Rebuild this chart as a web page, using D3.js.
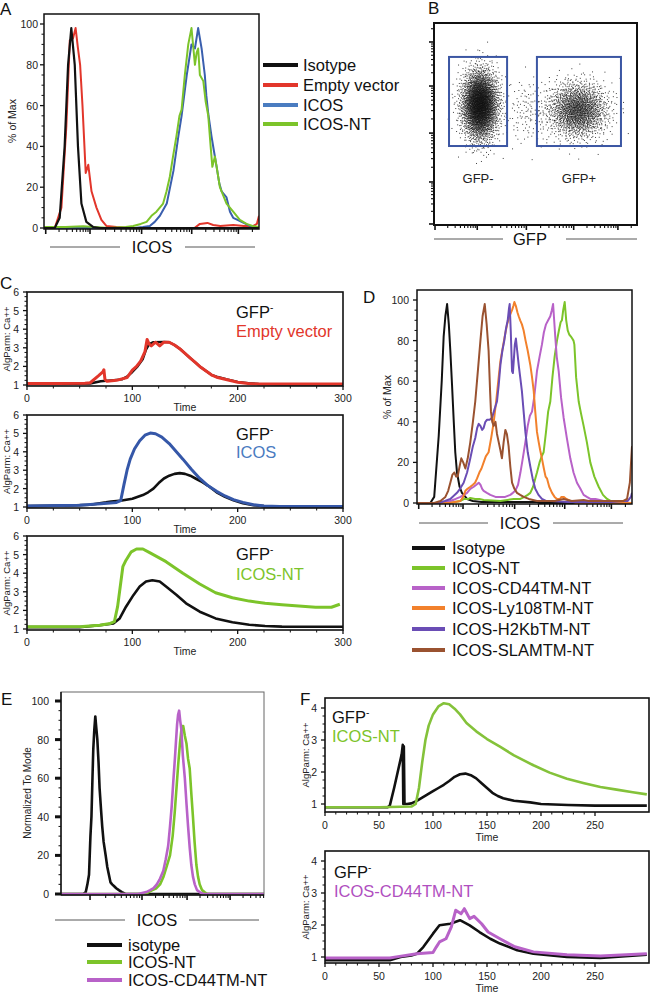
<!DOCTYPE html>
<html><head><meta charset="utf-8">
<script src="https://cdn.jsdelivr.net/npm/d3@7"></script>
<style>body{margin:0;background:#fff}svg{display:block;font-family:"Liberation Sans",Arial,Helvetica,sans-serif}</style>
</head><body><svg id="fig" width="650" height="995"></svg>
<script>
// ---------------- DATA ----------------
// Panel A histograms: [channel (0-1000), % of max]
const aLegend = ["Isotype","Empty vector","ICOS","ICOS-NT"];
const aIsotype = [[0,0],[50,0],[73,5],[96,40],[112,80],[127,98],[143,80],[158,40],[174,12],[197,3],[228,0.5],[260,0],[1000,0]];
const aEmpty = [[0,0],[50,0],[81,10],[104,50],[120,92],[135,93],[147,98],[158,88],[168,80],[179,60],[194,27],[200,29],[206,31],[221,18],[244,10],[267,4],[290,1],[337,0.5],[400,0],[700,0],[725,2],[760,2.5],[787,1.5],[820,1],[880,1.5],[930,1],[974,1],[990,2],[1000,6]];
const aICOS = [[0,0],[420,0],[460,0.5],[492,1],[515,3],[539,6],[571,12],[602,28],[625,45],[640,55],[664,75],[686,90],[702,88],[717,98],[733,88],[748,75],[755,65],[764,56],[779,45],[790,38],[803,30],[815,22],[826,18],[849,15],[865,8],[880,5],[900,4],[919,3],[958,1],[1000,0]];
const aICOSNT = [[0,0.5],[100,0.5],[182,0.8],[300,0],[380,0.5],[415,1],[450,2],[477,3],[500,6],[523,8],[554,12],[570,18],[585,25],[600,35],[616,45],[630,55],[640,58],[655,75],[671,90],[686,98],[695,88],[702,80],[710,86],[717,88],[725,75],[741,72],[752,62],[764,55],[775,40],[783,30],[795,35],[806,28],[818,20],[849,12],[880,8],[911,4],[942,2],[970,1],[1000,0.5]];
const logMajors = [8, 214, 454, 687, 904];

// Panel B: cell populations [centerX, centerY, sdX, sdY, count] (channel units 0-1000)
const bClusters = [[227,594,44,84,3400],[709,569,72,68,1800],[470,560,60,80,140]];
const bGates = [{label:"GFP-", x0:74, x1:360, y0:391, y1:832},{label:"GFP+", x0:507, x1:921, y0:391, y1:832}];
const bMajors = [5, 213, 455, 688, 906];

// Panel C: Ca++ flux time courses [time, AlgParm Ca++]
const c1Black = [[0,1.05],[30,1.05],[60,1.08],[70,1.2],[80,1.25],[90,1.3],[95,1.45],[100,1.7],[105,2.0],[110,2.4],[113,2.9],[116,3.2],[120,3.3],[130,3.32],[135,3.3],[140,3.15],[145,2.95],[150,2.7],[155,2.45],[160,2.2],[165,1.95],[170,1.75],[175,1.55],[180,1.45],[190,1.3],[200,1.17],[210,1.1],[220,1.05],[240,1.03],[300,1.03]];
const c1Red = [[0,1.08],[30,1.08],[55,1.1],[60,1.12],[68,1.5],[72,1.7],[73,1.82],[74,1.3],[76,1.2],[85,1.25],[95,1.4],[100,1.8],[104,2.0],[108,2.3],[112,2.8],[114,3.45],[116,3.2],[118,3.1],[122,3.3],[126,3.1],[130,3.3],[135,3.3],[140,3.15],[145,2.95],[150,2.7],[155,2.45],[160,2.2],[165,1.95],[170,1.75],[175,1.55],[180,1.42],[190,1.28],[200,1.15],[210,1.08],[220,1.05],[300,1.05]];
const c2Black = [[0,1.05],[40,1.08],[60,1.12],[75,1.25],[80,1.3],[90,1.35],[100,1.45],[110,1.65],[115,1.8],[120,2.0],[125,2.3],[130,2.55],[135,2.7],[140,2.8],[145,2.84],[150,2.8],[155,2.7],[160,2.55],[165,2.4],[172,2.15],[180,1.8],[188,1.55],[196,1.36],[205,1.2],[215,1.1],[225,1.05],[240,1.02],[300,1.02]];
const c2Blue = [[0,1.05],[50,1.1],[70,1.18],[85,1.25],[89,1.35],[92,2.2],[95,3.0],[98,3.6],[102,4.15],[107,4.6],[112,4.9],[117,5.02],[122,4.98],[128,4.8],[135,4.45],[148,3.6],[156,3.05],[164,2.55],[172,2.15],[180,1.85],[188,1.6],[196,1.4],[205,1.25],[215,1.12],[225,1.06],[240,1.03],[300,1.03]];
const c3Black = [[0,1.1],[50,1.1],[69,1.2],[82,1.3],[88,1.57],[94,2.2],[101,2.82],[107,3.28],[113,3.55],[119,3.62],[126,3.55],[132,3.28],[142,2.83],[151,2.38],[164,1.93],[179,1.57],[195,1.36],[211,1.23],[226,1.16],[242,1.13],[300,1.12]];
const c3Green = [[0,1.12],[53,1.13],[69,1.2],[79,1.3],[83,1.4],[86,2.2],[91,4.35],[94,4.7],[99,5.15],[104,5.3],[110,5.3],[116,5.12],[132,4.62],[148,4.0],[164,3.42],[179,2.95],[195,2.68],[211,2.5],[226,2.38],[242,2.3],[258,2.24],[274,2.17],[289,2.17],[297,2.33]];

// Panel D histograms
const dLegend = ["Isotype","ICOS-NT","ICOS-CD44TM-NT","ICOS-Ly108TM-NT","ICOS-H2KbTM-NT","ICOS-SLAMTM-NT"];
const dIsotype = [[0,0],[62,0],[80,3],[101,33],[115,60],[124,82],[132,92],[140,98],[148,88],[155,75],[163,58],[171,40],[178,25],[186,15],[198,8],[209,5],[233,2],[260,1],[300,0.5],[558,0.5],[570,0],[1000,0]];
const dICOSNT = [[0,0],[150,0],[202,1],[220,2],[240,2],[248,2.5],[270,2],[290,2],[310,1.5],[350,1.2],[388,1],[420,1.5],[450,2],[481,2],[500,3],[515,4],[527,5],[540,8],[550,12],[558,15],[570,20],[580,23],[589,25],[600,35],[610,45],[620,50],[630,62],[640,72],[651,80],[660,85],[668,89],[674,90],[680,95],[687,99],[694,90],[701,85],[708,83],[716,82],[722,81],[728,80],[732,78],[740,62],[752,50],[763,44],[775,38],[790,30],[806,20],[825,13],[845,8],[865,4],[884,2],[900,1],[915,0],[1000,0]];
const dCD44 = [[0,0],[120,0],[155,1],[180,2],[202,3],[218,4],[233,5],[248,7],[264,8],[276,9],[287,10],[295,9],[303,7],[310,6],[325,5],[341,4],[365,3],[388,3],[410,3],[434,4],[446,5],[457,6],[470,9],[481,15],[492,22],[504,30],[515,38],[525,43],[535,45],[545,52],[558,65],[570,72],[581,78],[590,84],[600,88],[610,90],[620,92],[627,95],[633,98],[638,90],[643,82],[650,72],[659,65],[670,52],[682,42],[697,32],[713,22],[728,15],[744,10],[760,7],[775,4],[790,3],[806,2],[830,2],[850,1.5],[868,1],[900,0.5],[1000,0]];
const dLy108 = [[0,0],[150,0],[202,1],[215,3],[225,6],[235,7],[248,8],[260,9],[270,10],[279,12],[290,15],[300,17],[310,20],[320,23],[333,25],[345,32],[357,40],[368,50],[378,60],[388,70],[398,76],[408,82],[419,88],[430,92],[442,95],[448,97],[453,99],[460,97],[467,94],[473,92],[480,90],[488,88],[496,85],[505,80],[515,75],[527,68],[535,62],[543,55],[550,45],[558,35],[566,30],[573,26],[581,22],[590,17],[598,13],[605,12],[615,8],[628,5],[640,3],[651,2],[665,2],[672,3],[682,3],[695,2],[713,1],[740,0],[1000,0]];
const dH2Kb = [[0,0],[100,0],[130,1],[155,2],[186,5],[200,7],[217,10],[233,15],[248,22],[260,28],[271,32],[280,37],[287,39],[295,38],[303,36],[310,37],[318,40],[326,41],[338,41],[349,42],[360,46],[372,50],[380,58],[388,68],[397,75],[406,80],[414,86],[422,90],[428,96],[431,98],[436,85],[442,65],[446,64],[450,70],[455,78],[460,81],[466,75],[473,68],[480,62],[488,55],[496,45],[504,35],[515,25],[527,18],[538,12],[550,7],[565,4],[581,2],[600,1],[620,1],[700,0.5],[800,0.5],[900,0.5],[961,1],[980,1],[995,3],[1000,5]];
const dSLAM = [[0,0],[80,0],[109,1],[132,3],[145,6],[155,10],[165,14],[174,15],[182,13],[189,13],[198,18],[206,22],[215,20],[225,17],[236,22],[248,30],[260,40],[271,50],[283,65],[295,80],[305,92],[315,98],[324,88],[333,75],[340,55],[344,45],[350,40],[357,38],[365,40],[372,34],[380,30],[388,26],[395,22],[403,30],[411,36],[418,34],[426,28],[434,18],[442,10],[453,7],[465,5],[480,4],[496,3],[520,2],[558,1],[640,1],[682,2],[700,1.5],[720,1],[775,1.5],[800,1],[960,1],[977,2],[990,10],[1000,28]];

// Panel E histograms (Normalized To Mode)
const eLegend = ["isotype","ICOS-NT","ICOS-CD44TM-NT"];
const eIsotype = [[0,0],[110,0],[122,1],[130,5],[138,10],[145,30],[150,40],[155,60],[159,75],[164,85],[169,92],[174,86],[179,80],[185,68],[190,55],[197,44],[203,35],[210,27],[220,20],[228,14],[236,10],[244,6],[252,5],[262,4],[272,3],[285,2],[300,1],[317,0],[1000,0]];
const eICOSNT = [[0,0],[400,0],[423,0.5],[450,2],[470,3],[488,5],[505,9],[520,14],[537,20],[550,30],[560,42],[569,55],[578,68],[586,78],[593,85],[598,87],[602,87],[610,82],[618,78],[626,70],[634,65],[642,52],[650,40],[658,27],[667,15],[675,9],[683,5],[695,2],[707,1],[720,0],[1000,0]];
const eCD44 = [[0,0],[380,0],[400,0.5],[420,1],[439,2],[456,3],[472,5],[488,8],[504,12],[516,18],[528,25],[537,35],[545,45],[553,58],[561,70],[567,80],[572,88],[577,93],[582,95],[587,90],[593,85],[600,72],[610,60],[618,47],[626,35],[634,24],[642,15],[650,9],[659,5],[670,2],[683,1],[700,0],[1000,0]];
const eMajors = [143, 399, 621, 833];

// Panel F time courses
const fTopBlack = [[0,0.9],[30,0.9],[58,0.9],[60,0.95],[64,1.5],[68,2.1],[71,2.55],[72,2.85],[72.5,1.0],[73,2.8],[73.6,1.0],[76,1.0],[80,1.02],[85,1.1],[90,1.2],[95,1.3],[100,1.4],[105,1.5],[110,1.6],[115,1.72],[120,1.85],[125,1.93],[130,1.95],[135,1.9],[140,1.8],[145,1.65],[150,1.5],[155,1.35],[160,1.25],[165,1.18],[175,1.1],[190,1.05],[200,1.0],[225,0.97],[250,0.95],[275,0.95],[298,0.95]];
const fTopGreen = [[0,0.9],[50,0.9],[80,0.92],[84,1.0],[87,1.5],[90,2.3],[93,3.0],[96,3.45],[100,3.8],[105,4.05],[110,4.15],[115,4.12],[120,3.98],[125,3.8],[131,3.53],[140,3.27],[150,3.03],[162,2.79],[175,2.52],[193,2.21],[208,1.98],[224,1.79],[240,1.65],[255,1.53],[270,1.45],[285,1.37],[298,1.3]];
const fBotBlack = [[0,0.9],[60,0.9],[70,1.0],[80,1.05],[85,1.1],[91,1.31],[100,1.73],[106,1.99],[116,2.04],[125,2.15],[134,1.99],[143,1.78],[153,1.57],[162,1.42],[178,1.21],[193,1.1],[224,1.0],[255,0.97],[298,1.07]];
const fBotMagenta = [[0,0.97],[60,0.97],[69,1.02],[85,1.1],[100,1.14],[103,1.31],[106,1.47],[112,1.57],[117,1.94],[121,2.46],[126,2.35],[129,2.51],[134,2.2],[138,2.27],[145,2.04],[151,1.78],[162,1.57],[175,1.33],[193,1.16],[224,1.07],[255,1.03],[298,1.1]];

// ---------------- COLOURS ----------------
const COL = {black:"#111111", red:"#e2362b", blue:"#3a5fae", blueLeg:"#4a7cc0", green:"#7cc42a",
  magenta:"#b862c8", orange:"#f2812c", purple:"#6a4db5", brown:"#9a5230", gate:"#3b56a3"};

// ---------------- HELPERS ----------------
const svg = d3.select("#fig");
let clipN = 0;
function clip(x0,y0,w,h){ const id="clip"+(clipN++); svg.append("clipPath").attr("id",id).append("rect").attr("x",x0).attr("y",y0).attr("width",w).attr("height",h); return "url(#"+id+")"; }
function panelLabel(t,x,y){ svg.append("text").attr("x",x).attr("y",y).attr("font-size",17).attr("fill","#111").text(t); }
function vLabel(t,cx,cy,fs){ svg.append("text").attr("transform",`translate(${cx},${cy}) rotate(-90)`).attr("text-anchor","middle").attr("dominant-baseline","central").attr("font-size",fs).attr("fill","#222").text(t); }
function logTicks(g, x, majors, yb, dir){
  const all=[];
  majors.forEach((m,i)=>{ const w = (i<majors.length-1? majors[i+1]-m : m-majors[i-1]);
    all.push({v:m,major:true});
    for(let k=2;k<10;k++){ const v=m+Math.log10(k)*w; if(v<1000) all.push({v:v,major:false}); } });
  g.selectAll(null).data(all).enter().append("line")
   .attr("x1",d=>x(d.v)).attr("x2",d=>x(d.v)).attr("y1",yb).attr("y2",d=>yb+dir*(d.major?5:3))
   .attr("stroke","#111").attr("stroke-width",d=>d.major?1.6:1.1);
}
function axisTitle(text, y, l1, l2, cx){
  svg.append("line").attr("x1",l1[0]).attr("x2",l1[1]).attr("y1",y).attr("y2",y).attr("stroke","#444").attr("stroke-width",0.9);
  svg.append("line").attr("x1",l2[0]).attr("x2",l2[1]).attr("y1",y).attr("y2",y).attr("stroke","#444").attr("stroke-width",0.9);
  svg.append("text").attr("x",cx).attr("y",y+6).attr("text-anchor","middle").attr("font-size",16.5).attr("fill","#111").text(text);
}
function legend(items, x0, x1, tx, ys, fs){
  items.forEach((it,i)=>{
    svg.append("line").attr("x1",x0).attr("x2",x1).attr("y1",ys[i]).attr("y2",ys[i]).attr("stroke",it.color).attr("stroke-width",4);
    svg.append("text").attr("x",tx).attr("y",ys[i]).attr("dominant-baseline","central").attr("font-size",fs).attr("fill","#111").text(it.name);
  });
}
function histPanel(o){
  const x = d3.scaleLinear().domain([0,1000]).range([o.left,o.right]);
  const y = d3.scaleLinear().domain([0,100]).range([o.y0,o.y100]);
  const g = svg.append("g");
  const cp = clip(o.left,o.top,o.right-o.left,o.y0-o.top+1.5);
  const line = d3.line().x(d=>x(d[0])).y(d=>y(d[1]));
  const cg = g.append("g").attr("clip-path",cp);
  o.curves.forEach(c=>{ cg.append("path").attr("d",line(c.data)).attr("fill","none").attr("stroke",c.color).attr("stroke-width",c.w||2).attr("stroke-linejoin","round"); });
  g.append("rect").attr("x",o.left).attr("y",o.top).attr("width",o.right-o.left).attr("height",o.y0-o.top+1)
    .attr("fill","none").attr("stroke",o.frameColor||"#111").attr("stroke-width",o.frameW||1.5);
  if(o.thickAxes){
    g.append("line").attr("x1",o.left).attr("x2",o.left).attr("y1",o.top).attr("y2",o.y0+1).attr("stroke","#111").attr("stroke-width",1.5);
    g.append("line").attr("x1",o.left).attr("x2",o.right).attr("y1",o.y0+1).attr("y2",o.y0+1).attr("stroke","#111").attr("stroke-width",1.5);
  }
  const minors = d3.range(0,101,5).filter(v=>v%20);
  g.selectAll(null).data(minors).enter().append("line").attr("x1",o.left).attr("x2",o.left-2.5).attr("y1",d=>y(d)).attr("y2",d=>y(d)).attr("stroke","#111").attr("stroke-width",1);
  const majors = d3.range(0,101,20);
  g.selectAll(null).data(majors).enter().append("line").attr("x1",o.left).attr("x2",o.left-(o.bigTick?6:4)).attr("y1",d=>y(d)).attr("y2",d=>y(d)).attr("stroke","#111").attr("stroke-width",o.bigTick?3:1.3);
  g.selectAll(null).data(majors).enter().append("text").attr("x",o.labelX).attr("y",d=>y(d)).attr("dominant-baseline","central").attr("text-anchor","end").attr("font-size",10.5).attr("fill","#222").text(d=>d);
  logTicks(g, x, o.majors, o.y0+1, 1);
}
function gfpLabel(x,y1,y2,txt,col){
  const t = svg.append("text").attr("x",x).attr("y",y1).attr("font-size",16.5).attr("fill","#111");
  t.append("tspan").text("GFP");
  t.append("tspan").attr("font-size",10).attr("dy",-7).text("-");
  svg.append("text").attr("x",x).attr("y",y2).attr("font-size",16.5).attr("fill",col).text(txt);
}
function tcPanel(o){
  const x = d3.scaleLinear().domain([0,300]).range([o.left,o.right]);
  const y = d3.scaleLinear().domain([1,o.yTopVal]).range([o.y1,o.yTop]);
  const g = svg.append("g");
  const cp = clip(o.left,o.frameTop,o.right-o.left,o.frameBot-o.frameTop);
  const line = d3.line().x(d=>x(d[0])).y(d=>y(d[1]));
  const cg = g.append("g").attr("clip-path",cp);
  o.curves.forEach(c=>{ cg.append("path").attr("d",line(c.data)).attr("fill","none").attr("stroke",c.color).attr("stroke-width",c.w||2.6).attr("stroke-linejoin","round"); });
  g.append("rect").attr("x",o.left).attr("y",o.frameTop).attr("width",o.right-o.left).attr("height",o.frameBot-o.frameTop)
    .attr("fill","none").attr("stroke","#111").attr("stroke-width",1.6);
  const xMin = d3.range(0,301,o.xMinor).filter(v=>v%o.xMajor && v<=o.xMax);
  g.selectAll(null).data(xMin).enter().append("line").attr("x1",d=>x(d)).attr("x2",d=>x(d)).attr("y1",o.frameBot).attr("y2",o.frameBot+2.5).attr("stroke","#111").attr("stroke-width",1);
  const xMaj = d3.range(0,o.xMax+1,o.xMajor);
  g.selectAll(null).data(xMaj).enter().append("line").attr("x1",d=>x(d)).attr("x2",d=>x(d)).attr("y1",o.frameBot).attr("y2",o.frameBot+4).attr("stroke","#111").attr("stroke-width",1.3);
  g.selectAll(null).data(xMaj).enter().append("text").attr("x",d=>x(d)).attr("y",o.frameBot+o.lblOff).attr("text-anchor","middle").attr("font-size",10.5).attr("fill","#222").text(d=>d);
  g.append("text").attr("x",x(150)).attr("y",o.frameBot+o.timeOff).attr("text-anchor","middle").attr("font-size",10.5).attr("fill","#222").text("Time");
  const yMaj = d3.range(1,o.yTopVal+0.01,1);
  const yMin = d3.range(1,o.yTopVal+0.01,0.25).filter(v=>v%1);
  g.selectAll(null).data(yMin).enter().append("line").attr("x1",o.left).attr("x2",o.left-2.5).attr("y1",d=>y(d)).attr("y2",d=>y(d)).attr("stroke","#111").attr("stroke-width",1);
  g.selectAll(null).data(yMaj).enter().append("line").attr("x1",o.left).attr("x2",o.left-4).attr("y1",d=>y(d)).attr("y2",d=>y(d)).attr("stroke","#111").attr("stroke-width",1.3);
  g.selectAll(null).data(yMaj).enter().append("text").attr("x",o.left-8).attr("y",d=>y(d)).attr("dominant-baseline","central").attr("text-anchor","end").attr("font-size",10.5).attr("fill","#222").text(d=>d);
  vLabel("AlgParm: Ca++", o.yLabelX, (o.frameTop+o.frameBot)/2, 9.5);
}

// ---------------- PANEL A ----------------
panelLabel("A",0,15);
histPanel({left:44,right:259,top:14,y0:228,y100:24,labelX:38,majors:logMajors,
  curves:[{data:aEmpty,color:COL.red},{data:aICOS,color:COL.blue},{data:aICOSNT,color:COL.green},{data:aIsotype,color:COL.black,w:2.2}]});
vLabel("% of Max",12,121,10.5);
axisTitle("ICOS",247,[50,120],[185,255],152);
legend([{name:aLegend[0],color:COL.black},{name:aLegend[1],color:COL.red},{name:aLegend[2],color:COL.blueLeg},{name:aLegend[3],color:COL.green}],263,298,303,[65,85,105,124],16.5);

// ---------------- PANEL B ----------------
panelLabel("B",428,14);
(function(){
  const L=434,R=637,T=23,B=225;
  const x=d3.scaleLinear().domain([0,1000]).range([L,R]);
  const y=d3.scaleLinear().domain([0,1000]).range([B,T]);
  // deterministic low-discrepancy (Halton) layout of dots inside each population
  function halton(i,b){let f=1,r=0;while(i>0){f/=b;r+=f*(i%b);i=Math.floor(i/b);}return r;}
  const pts=[]; let off=1;
  bClusters.forEach(c=>{
    for(let i=0;i<c[4];i++){
      const u1=halton(i+off,2)||1e-6, u2=halton(i+off,3);
      const r=Math.sqrt(-2*Math.log(u1)), th=2*Math.PI*u2;
      pts.push([c[0]+c[2]*r*Math.cos(th), c[1]+c[3]*r*Math.sin(th)]);
    }
    off+=c[4]+17;
  });
  const g=svg.append("g");
  const cp=clip(L,T,R-L,B-T);
  g.append("g").attr("clip-path",cp).selectAll("rect").data(pts).enter().append("rect")
    .attr("x",d=>x(d[0])-0.5).attr("y",d=>y(d[1])-0.5).attr("width",1).attr("height",1).attr("fill","#111").attr("fill-opacity",0.8);
  g.selectAll(null).data(bGates).enter().append("rect")
    .attr("x",d=>x(d.x0)).attr("y",d=>y(d.y1)).attr("width",d=>x(d.x1)-x(d.x0)).attr("height",d=>y(d.y0)-y(d.y1))
    .attr("fill","none").attr("stroke",COL.gate).attr("stroke-width",2);
  g.selectAll(null).data(bGates).enter().append("text")
    .attr("x",d=>(x(d.x0)+x(d.x1))/2).attr("y",183).attr("text-anchor","middle").attr("font-size",13).attr("fill","#222").text(d=>d.label);
  g.append("rect").attr("x",L).attr("y",T).attr("width",R-L).attr("height",B-T).attr("fill","none").attr("stroke","#111").attr("stroke-width",2);
  logTicks(g,x,bMajors,B,1);
  const all=[];
  bMajors.forEach((m,i)=>{const w=(i<bMajors.length-1?bMajors[i+1]-m:m-bMajors[i-1]); all.push({v:m,major:true});
    for(let k=2;k<10;k++){const v=m+Math.log10(k)*w; if(v<1000) all.push({v:v,major:false});}});
  g.selectAll(null).data(all).enter().append("line").attr("x1",L).attr("x2",d=>L-(d.major?5:3)).attr("y1",d=>y(d.v)).attr("y2",d=>y(d.v)).attr("stroke","#111").attr("stroke-width",d=>d.major?1.6:1.1);
})();
axisTitle("GFP",239,[434,503],[566,637],530);

// ---------------- PANEL C ----------------
panelLabel("C",0,289);
const cCommon={left:27,right:343,yTopVal:6,xMinor:25,xMajor:100,xMax:300,lblOff:16,timeOff:25,yLabelX:6};
tcPanel(Object.assign({},cCommon,{yTop:292,y1:385,frameTop:292,frameBot:386,curves:[{data:c1Black,color:COL.black,w:2.4},{data:c1Red,color:COL.red,w:3}]}));
gfpLabel(236,318,337,"Empty vector",COL.red);
tcPanel(Object.assign({},cCommon,{yTop:415,y1:507,frameTop:415,frameBot:508,curves:[{data:c2Black,color:COL.black,w:2.6},{data:c2Blue,color:"#3557a8",w:3}]}));
gfpLabel(236,440,458,"ICOS","#4a7bbf");
tcPanel(Object.assign({},cCommon,{yTop:536,y1:629,frameTop:536,frameBot:630,curves:[{data:c3Black,color:COL.black,w:2.6},{data:c3Green,color:COL.green,w:3}]}));
gfpLabel(236,560,580,"ICOS-NT",COL.green);

// ---------------- PANEL D ----------------
panelLabel("D",363,303);
histPanel({left:417,right:632,top:290,y0:503,y100:300,labelX:409,majors:logMajors,
  curves:[{data:dIsotype,color:COL.black},{data:dICOSNT,color:COL.green},{data:dCD44,color:COL.magenta},{data:dLy108,color:COL.orange},{data:dH2Kb,color:COL.purple},{data:dSLAM,color:COL.brown}]});
vLabel("% of Max",387,397,10.5);
axisTitle("ICOS",523,[419,488],[553,623],520);
legend(dLegend.map((n,i)=>({name:n,color:[COL.black,COL.green,COL.magenta,COL.orange,COL.purple,COL.brown][i]})),412,445,452,[548,568,588,608,629,650],16.5);

// ---------------- PANEL E ----------------
panelLabel("E",1,705);
histPanel({left:61,right:264,top:692,y0:894,y100:701,labelX:49,majors:eMajors,bigTick:true,frameColor:"#666",frameW:1,thickAxes:true,
  curves:[{data:eIsotype,color:COL.black,w:2.6},{data:eICOSNT,color:COL.green,w:2.6},{data:eCD44,color:COL.magenta,w:2.6}]});
vLabel("Normalized To Mode",27,793,10);
axisTitle("ICOS",920,[55,125],[189,259],157);
legend(eLegend.map((n,i)=>({name:n,color:[COL.black,COL.green,COL.magenta][i]})),87,122,128,[945,962,980],16.5);

// ---------------- PANEL F ----------------
panelLabel("F",300,705);
const fCommon={left:325,right:649,yTopVal:4,xMinor:10,xMajor:50,xMax:250,lblOff:17,timeOff:29,yLabelX:305};
tcPanel(Object.assign({},fCommon,{yTop:708,y1:804,frameTop:698,frameBot:812,curves:[{data:fTopBlack,color:COL.black,w:2.6},{data:fTopGreen,color:"#84c23a",w:2.6}]}));
gfpLabel(332,723,742,"ICOS-NT","#7dc42a");
tcPanel(Object.assign({},fCommon,{yTop:861,y1:957,frameTop:851,frameBot:963,curves:[{data:fBotBlack,color:COL.black,w:2.6},{data:fBotMagenta,color:COL.magenta,w:3}]}));
gfpLabel(334,878,897,"ICOS-CD44TM-NT","#b04fc0");
</script></body></html>
